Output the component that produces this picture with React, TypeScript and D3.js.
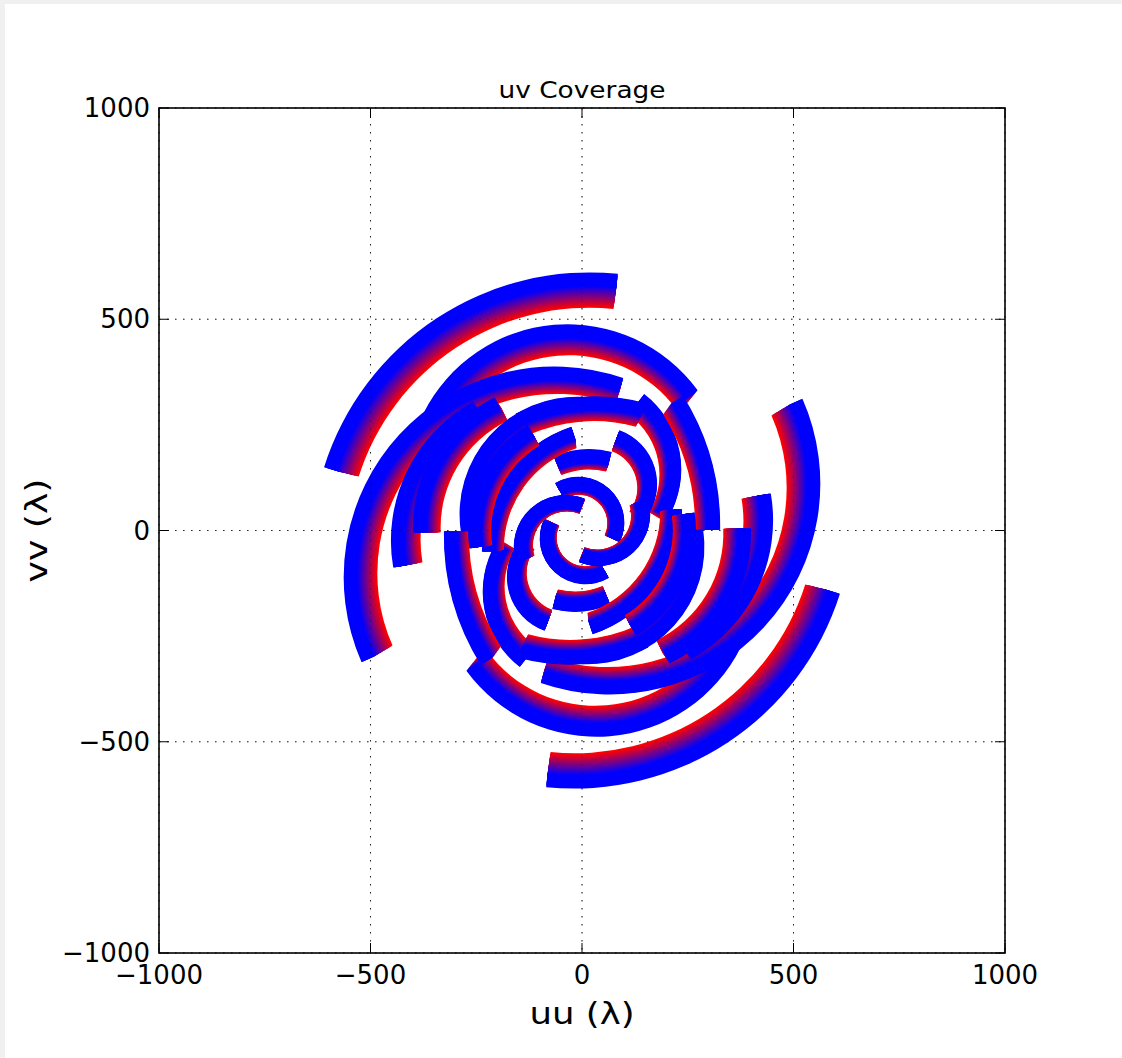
import React from "react";
import * as d3 from "d3";

const W = 1122;
const H = 1058;

const axisTicks = [-1000, -500, 0, 500, 1000];
const tickLabels = ["\u22121000", "\u2212500", "0", "500", "1000"];
const titleText = "uv Coverage";
const xLabel = "uu (\u03bb)";
const yLabel = "vv (\u03bb)";

// frequency ratio of each channel, lowest (red) to highest (blue)
const channelScale = [
  0.915, 0.92, 0.924, 0.929, 0.933, 0.938, 0.942, 0.947, 0.951, 0.956,
  0.96, 0.964, 0.969, 0.973, 0.978, 0.982, 0.987, 0.991, 0.996, 1.0,
];

// each track: start, middle and end point (u, v) of the highest channel;
// the conjugate track (-u, -v) is drawn too
const trackStart: [number, number][] = [
  [-594, 145], [-360, 270], [-506, -305], [-430, -85], [-383, -5],
  [137, 310], [225, 310], [83, 222], [-60, 160], [-270, 0],
  [-220, -50], [75, -20], [0, 60], [-150, 262], [-250, -40],
];
const trackMid: [number, number][] = [
  [-418, 423], [0, 470], [-534, 0], [-405, 120], [-340, 170],
  [213, 191], [296, 137], [156, 144], [0, 175], [-200, 220],
  [-160, 130], [60, 80], [-110, 40], [0, 300], [-225, 120],
];
const trackEnd: [number, number][] = [
  [83, 591], [260, 322], [92, 345], [-250, 290], [-200, 300],
  [189, 38], [310, 2], [137, 38], [66, 170], [0, 300],
  [-20, 230], [-55, 98], [-140, -70], [144, 286], [-120, 235],
];

const PLOT = { left: 159, right: 1005, top: 108, bottom: 953 };
const MARKER = 14;

function circumcircle(a: number[], b: number[], c: number[]) {
  const d = 2 * (a[0] * (b[1] - c[1]) + b[0] * (c[1] - a[1]) + c[0] * (a[1] - b[1]));
  const a2 = a[0] * a[0] + a[1] * a[1];
  const b2 = b[0] * b[0] + b[1] * b[1];
  const c2 = c[0] * c[0] + c[1] * c[1];
  const ux = (a2 * (b[1] - c[1]) + b2 * (c[1] - a[1]) + c2 * (a[1] - b[1])) / d;
  const uy = (a2 * (c[0] - b[0]) + b2 * (a[0] - c[0]) + c2 * (b[0] - a[0])) / d;
  return { cx: ux, cy: uy, r: Math.hypot(a[0] - ux, a[1] - uy) };
}

export default function App() {
  const x = d3.scaleLinear().domain([-1000, 1000]).range([PLOT.left, PLOT.right]);
  const y = d3.scaleLinear().domain([-1000, 1000]).range([PLOT.bottom, PLOT.top]);
  const x0 = x(0);
  const y0 = y(0);
  const color = d3.interpolateRgb("#ff0000", "#0000ff");
  const arcGen = d3.arc();

  type Geom = { cx: number; cy: number; r: number; a0: number; a1: number };
  // geometry of each track (and its conjugate) in pixel offsets from the origin
  const pairs: Geom[][] = trackStart.map((s, i) => {
    const pts = [s, trackMid[i], trackEnd[i]].map((p) => [x(p[0]) - x0, y(p[1]) - y0]);
    const c = circumcircle(pts[0], pts[1], pts[2]);
    const ang = pts.map((p) => Math.atan2(p[0] - c.cx, -(p[1] - c.cy)));
    const TAU = Math.PI * 2;
    const mod = (v: number) => ((v % TAU) + TAU) % TAU;
    const d13 = mod(ang[2] - ang[0]);
    const d12 = mod(ang[1] - ang[0]);
    const a0 = ang[0];
    const a1 = d12 < d13 ? ang[0] + d13 : ang[0] - (TAU - d13);
    return [
      { cx: c.cx, cy: c.cy, r: c.r, a0, a1 },
      { cx: -c.cx, cy: -c.cy, r: c.r, a0: a0 + Math.PI, a1: a1 + Math.PI },
    ];
  });

  const paths: JSX.Element[] = [];
  pairs.forEach((pair, j) => {
    channelScale.forEach((f, k) => {
      const col = color(k / (channelScale.length - 1));
      pair.forEach((g, h) => {
        const R = g.r * f;
        const dstr = arcGen({
          innerRadius: R - MARKER / 2,
          outerRadius: R + MARKER / 2,
          startAngle: Math.min(g.a0, g.a1),
          endAngle: Math.max(g.a0, g.a1),
        } as any) as string;
        paths.push(
          <path
            key={`t${j}-${k}-${h}`}
            d={dstr}
            transform={`translate(${x0 + g.cx * f},${y0 + g.cy * f})`}
            fill={col}
          />
        );
      });
    });
  });

  const font = "'DejaVu Sans', sans-serif";

  return (
    <svg
      width={W}
      height={H}
      style={{ position: "absolute", left: 0, top: 0, display: "block" }}
      xmlns="http://www.w3.org/2000/svg"
    >
      <rect x={0} y={0} width={W} height={H} fill="#f0f0f0" />
      <rect x={5} y={4} width={W - 5} height={H - 4} fill="#ffffff" />
      <defs>
        <clipPath id="plotclip">
          <rect x={PLOT.left} y={PLOT.top} width={PLOT.right - PLOT.left} height={PLOT.bottom - PLOT.top} />
        </clipPath>
      </defs>
      {/* grid */}
      <g stroke="#000" strokeWidth={1} strokeDasharray="1.5,6.5" opacity={0.75}>
        {axisTicks.map((t) => (
          <line key={`gx${t}`} x1={x(t)} x2={x(t)} y1={PLOT.top} y2={PLOT.bottom} />
        ))}
        {axisTicks.map((t) => (
          <line key={`gy${t}`} x1={PLOT.left} x2={PLOT.right} y1={y(t)} y2={y(t)} />
        ))}
      </g>
      <g clipPath="url(#plotclip)">{paths}</g>
      {/* grid drawn again faintly over the marks, as in the reference */}
      <g stroke="#000" strokeWidth={1} strokeDasharray="1.5,6.5" opacity={0.35}>
        {axisTicks.map((t) => (
          <line key={`gx2${t}`} x1={x(t)} x2={x(t)} y1={PLOT.top} y2={PLOT.bottom} />
        ))}
        {axisTicks.map((t) => (
          <line key={`gy2${t}`} x1={PLOT.left} x2={PLOT.right} y1={y(t)} y2={y(t)} />
        ))}
      </g>
      {/* ticks */}
      <g stroke="#000" strokeWidth={1}>
        {axisTicks.map((t) => (
          <g key={`t${t}`}>
            <line x1={x(t)} x2={x(t)} y1={PLOT.bottom} y2={PLOT.bottom - 10} />
            <line x1={x(t)} x2={x(t)} y1={PLOT.top} y2={PLOT.top + 10} />
            <line x1={PLOT.left} x2={PLOT.left + 10} y1={y(t)} y2={y(t)} />
            <line x1={PLOT.right} x2={PLOT.right - 10} y1={y(t)} y2={y(t)} />
          </g>
        ))}
      </g>
      <rect
        x={PLOT.left}
        y={PLOT.top}
        width={PLOT.right - PLOT.left}
        height={PLOT.bottom - PLOT.top}
        fill="none"
        stroke="#000"
        strokeWidth={1.6}
      />
      {/* tick labels */}
      <g fontFamily={font} fontSize={26} fill="#000">
        {axisTicks.map((t, i) => (
          <text key={`xl${t}`} x={x(t)} y={PLOT.bottom + 31} textAnchor="middle">
            {tickLabels[i]}
          </text>
        ))}
        {axisTicks.map((t, i) => (
          <text key={`yl${t}`} x={PLOT.left - 9} y={y(t) + 9} textAnchor="end">
            {tickLabels[i]}
          </text>
        ))}
      </g>
      <text
        x={x(0)}
        y={98}
        textAnchor="middle"
        fontFamily={font}
        fontSize={23}
        textLength={167}
        lengthAdjust="spacingAndGlyphs"
      >
        {titleText}
      </text>
      <text
        x={x(0)}
        y={1024}
        textAnchor="middle"
        fontFamily={font}
        fontSize={31}
        textLength={105}
        lengthAdjust="spacingAndGlyphs"
      >
        {xLabel}
      </text>
      <text
        transform={`translate(47,${y(0)}) rotate(-90)`}
        textAnchor="middle"
        fontFamily={font}
        fontSize={31}
        textLength={104}
        lengthAdjust="spacingAndGlyphs"
      >
        {yLabel}
      </text>
    </svg>
  );
}
